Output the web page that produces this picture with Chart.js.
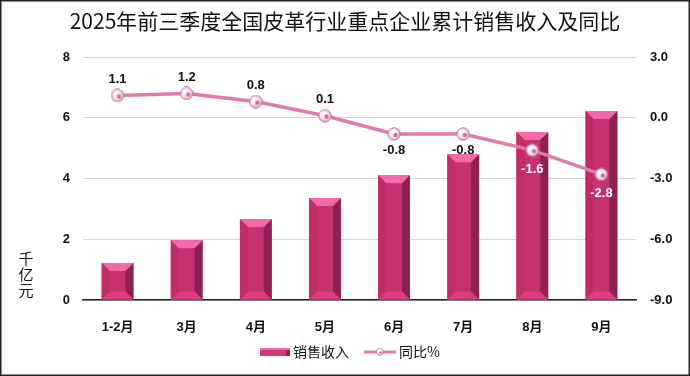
<!DOCTYPE html>
<html>
<head>
<meta charset="utf-8">
<script src="https://cdn.jsdelivr.net/npm/chart.js@4/dist/chart.umd.min.js"></script>
<style>
  html, body { margin: 0; padding: 0; background: #fff; }
</style>
</head>
<body>
<canvas id="graficoVendas" width="690" height="376"></canvas>
<script>
const categories = ['1-2月', '3月', '4月', '5月', '6月', '7月', '8月', '9月'];
const sales = [1.22, 1.97, 2.66, 3.36, 4.11, 4.80, 5.53, 6.22];
const yoy = [1.1, 1.2, 0.8, 0.1, -0.8, -0.8, -1.6, -2.8];
const leftTicks = [0, 2, 4, 6, 8];
const rightTicks = [-9, -6, -3, 0, 3];

const tickFont = { family: '"Liberation Sans", "Noto Sans CJK SC", sans-serif', size: 13, weight: 'bold' };

// marcador do ponto (bolinha clara)
const dot = document.createElement('canvas');
dot.width = 14; dot.height = 14;
(function () {
    const c = dot.getContext('2d');
    const g = c.createRadialGradient(5, 5, 1, 7, 7, 7);
    g.addColorStop(0, '#ffffff');
    g.addColorStop(0.6, '#f3dde8');
    g.addColorStop(1, '#c98aa8');
    c.fillStyle = g;
    c.beginPath(); c.arc(7, 7, 6.2, 0, Math.PI * 2); c.fill();
    c.strokeStyle = '#b87596'; c.lineWidth = 1; c.stroke();
    c.fillStyle = '#d86a9c';
    c.beginPath(); c.arc(8.5, 8, 2.2, 0, Math.PI * 2); c.fill();
})();

function poly(ctx, pts) {
    ctx.beginPath();
    ctx.moveTo(pts[0][0], pts[0][1]);
    for (let i = 1; i < pts.length; i++) ctx.lineTo(pts[i][0], pts[i][1]);
    ctx.closePath();
    ctx.fill();
}

const bevelPlugin = {
    id: 'bevel',
    afterDatasetDraw(chart, args) {
        if (args.index !== 0) return;
        const ctx = chart.ctx;
        ctx.save();
        chart.getDatasetMeta(0).data.forEach(bar => {
            const l = bar.x - bar.width / 2, r = bar.x + bar.width / 2;
            const t = bar.y, b = bar.base, d = 8;
            ctx.fillStyle = '#8c2252';
            poly(ctx, [[r - d, t + d], [r, t], [r, b], [r - d, b - d]]);
            ctx.fillStyle = '#f46aa8';
            poly(ctx, [[l, t], [r, t], [r - d, t + d], [l + d, t + d]]);
            ctx.fillStyle = '#dc3d80';
            poly(ctx, [[l, b], [l + d, b - d], [r - d, b - d], [r, b]]);
            ctx.fillStyle = '#c22d69';
            poly(ctx, [[l, t], [l + d, t + d], [l + d, b - d], [l, b]]);
        });
        ctx.restore();
    },
    afterDatasetsDraw(chart) {
        const ctx = chart.ctx;
        ctx.save();
        ctx.font = 'bold 13px "Liberation Sans", sans-serif';
        ctx.textAlign = 'center';
        ctx.textBaseline = 'middle';
        chart.getDatasetMeta(1).data.forEach((pt, i) => {
            const v = yoy[i];
            const above = i < 4;
            ctx.fillStyle = i >= 6 ? '#ffffff' : '#111111';
            const dy = above ? -16 : (i >= 6 ? 19 : 16);
            ctx.fillText(v.toFixed(1), pt.x, pt.y + dy);
        });
        ctx.restore();
    },
    afterDraw(chart) {
        const ctx = chart.ctx;
        ctx.save();
        // titulo
        ctx.fillStyle = '#111';
        ctx.font = '21px "Noto Sans CJK SC", sans-serif';
        ctx.textAlign = 'center';
        ctx.textBaseline = 'middle';
        ctx.fillText('2025年前三季度全国皮革行业重点企业累计销售收入及同比', 345, 21);
        // titulo do eixo
        ctx.font = '15px "Noto Sans CJK SC", sans-serif';
        ['千', '亿', '元'].forEach((ch, i) => ctx.fillText(ch, 26, 258 + i * 16));
        // legenda
        ctx.font = '14px "Noto Sans CJK SC", sans-serif';
        ctx.textAlign = 'left';
        const ly = 352;
        ctx.fillStyle = '#d23676';
        ctx.fillRect(260, ly - 4, 30, 8);
        ctx.fillStyle = '#8c2252';
        ctx.fillRect(286, ly - 4, 4, 8);
        ctx.fillStyle = '#f46aa8';
        ctx.fillRect(260, ly - 4, 30, 2);
        ctx.fillStyle = '#111';
        ctx.fillText('销售收入', 293, ly);
        ctx.strokeStyle = '#e07aaa';
        ctx.lineWidth = 3;
        ctx.beginPath(); ctx.moveTo(364, ly); ctx.lineTo(396, ly); ctx.stroke();
        ctx.drawImage(dot, 376, ly - 4, 8, 8);
        ctx.fillStyle = '#111';
        ctx.fillText('同比%', 399, ly);
        // moldura
        ctx.strokeStyle = '#222';
        ctx.lineWidth = 1.5;
        ctx.strokeRect(0.75, 0.75, 688.5, 374.5);
        ctx.restore();
    }
};

const ctx = document.getElementById('graficoVendas').getContext('2d');

const grafico = new Chart(ctx, {
    data: {
        labels: categories,
        datasets: [{
            type: 'bar',
            label: '销售收入',
            data: sales,
            backgroundColor: '#c8316f',
            borderWidth: 0,
            barPercentage: 0.46,
            categoryPercentage: 1,
            yAxisID: 'y',
            order: 2
        }, {
            type: 'line',
            label: '同比%',
            data: yoy,
            borderColor: '#e07aaa',
            borderWidth: 3.5,
            pointStyle: dot,
            pointRadius: 7,
            tension: 0,
            yAxisID: 'y1',
            order: 1
        }]
    },
    options: {
        responsive: false,
        animation: false,
        layout: { padding: { top: 57, right: 0, left: 0, bottom: 0 } },
        plugins: {
            legend: { display: false },
            title: { display: false },
            tooltip: { enabled: false }
        },
        scales: {
            x: {
                grid: { display: false },
                border: { color: '#222', width: 1.5 },
                ticks: { color: '#111', font: tickFont, padding: 12 },
                afterFit(scale) { scale.height = 76; }
            },
            y: {
                position: 'left',
                min: 0, max: 8,
                afterBuildTicks(scale) { scale.ticks = leftTicks.map(v => ({ value: v })); },
                grid: { color: '#d6d6d6', drawTicks: false, lineWidth: 1 },
                border: { display: false },
                ticks: { color: '#111', font: tickFont, padding: 13 },
                afterFit(scale) { scale.width = 83; }
            },
            y1: {
                position: 'right',
                min: -9, max: 3,
                afterBuildTicks(scale) { scale.ticks = rightTicks.map(v => ({ value: v })); },
                grid: { display: false, drawTicks: false },
                border: { display: false },
                ticks: { color: '#111', font: tickFont, padding: 14, callback: v => v.toFixed(1) },
                afterFit(scale) { scale.width = 54; }
            }
        }
    },
    plugins: [bevelPlugin]
});
</script>
</body>
</html>
